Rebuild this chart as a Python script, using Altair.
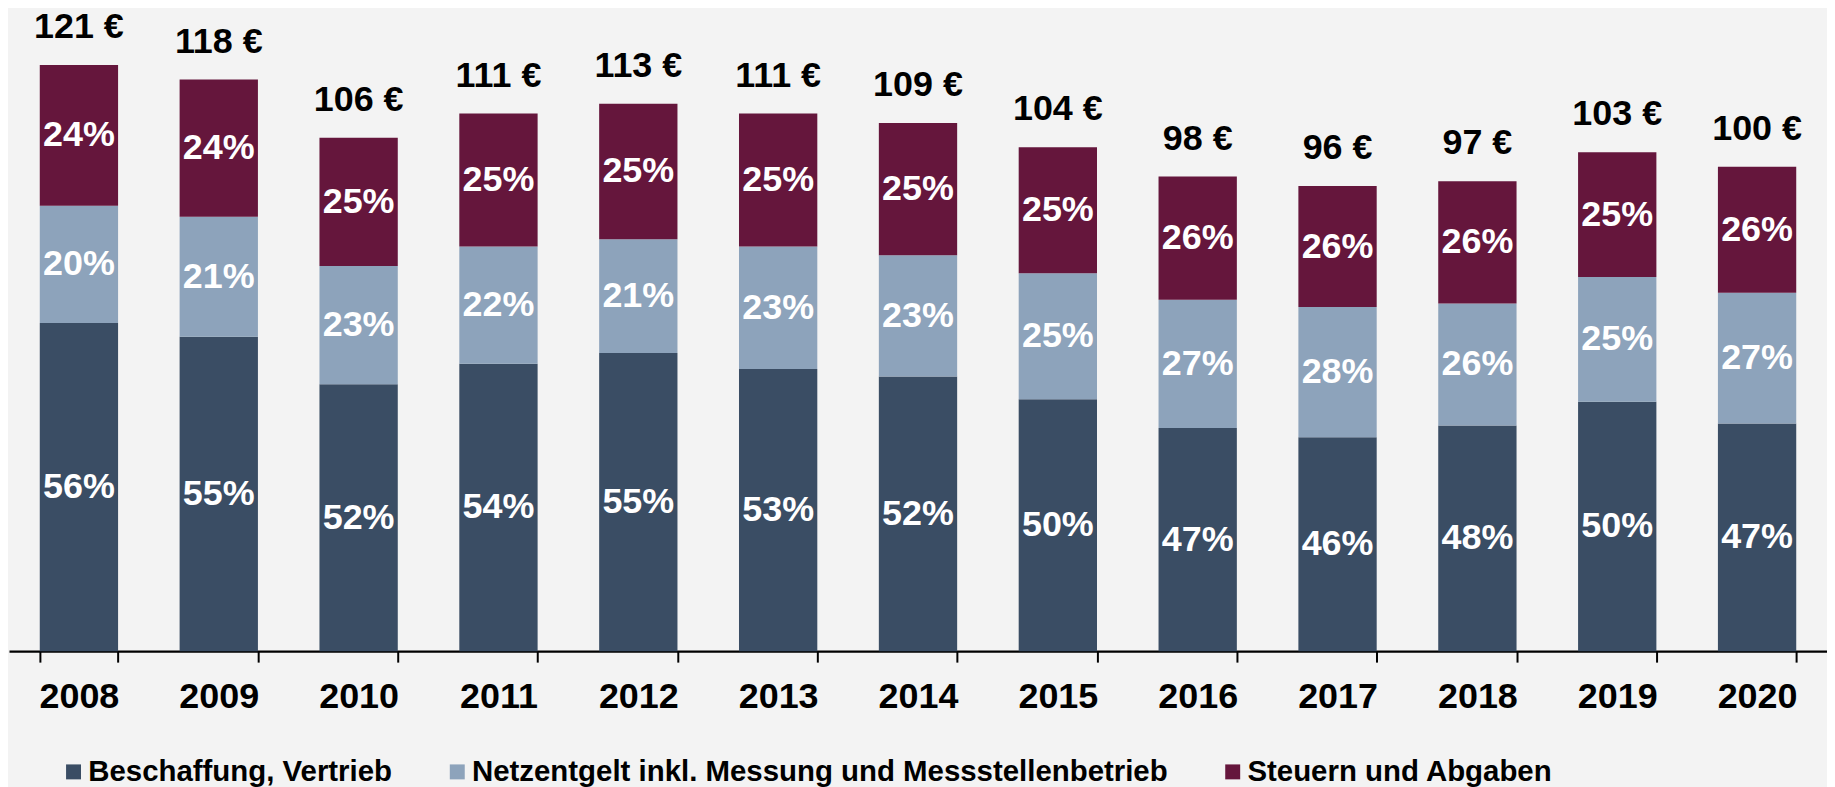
import altair as alt
import pandas as pd

years = [2008, 2009, 2010, 2011, 2012, 2013, 2014, 2015, 2016, 2017, 2018, 2019, 2020]
totals = [121, 118, 106, 111, 113, 111, 109, 104, 98, 96, 97, 103, 100]
series_names = [
    "Beschaffung, Vertrieb",
    "Netzentgelt inkl. Messung und Messstellenbetrieb",
    "Steuern und Abgaben",
]
beschaffung = [56, 55, 52, 54, 55, 53, 52, 50, 47, 46, 48, 50, 47]
netz = [20, 21, 23, 22, 21, 23, 23, 25, 27, 28, 26, 25, 27]
steuern = [24, 24, 25, 25, 25, 25, 25, 25, 26, 26, 26, 25, 26]
colors = ["#3a4d64", "#8da3bb", "#65163c"]

rows = []
for i, yr in enumerate(years):
    shares = [beschaffung[i], netz[i], steuern[i]]
    s = sum(shares)
    for j, name in enumerate(series_names):
        rows.append({
            "year": str(yr),
            "series": name,
            "o": j,
            "value": totals[i] * shares[j] / s,
            "label": f"{shares[j]}%",
        })
df = pd.DataFrame(rows)
tot = pd.DataFrame({
    "year": [str(y) for y in years],
    "total": totals,
    "label": [f"{t} €" for t in totals],
})

FONT = "Liberation Sans"

x = alt.X(
    "year:N",
    title=None,
    scale=alt.Scale(paddingInner=0.44, paddingOuter=0.22),
    axis=alt.Axis(
        labelAngle=0,
        labelFontSize=36,
        labelFont=FONT,
        labelFontWeight="bold",
        labelColor="black",
        labelPadding=18,
        domainColor="black",
        domainWidth=2.2,
        tickColor="black",
        tickWidth=2,
        tickSize=11,
        tickBand="extent",
        grid=False,
    ),
)
yscale = alt.Scale(domain=[0, 132.5], nice=False, zero=True)

bars = alt.Chart(df).mark_bar().encode(
    x=x,
    y=alt.Y("value:Q", stack="zero", scale=yscale, axis=None),
    color=alt.Color(
        "series:N",
        scale=alt.Scale(domain=series_names, range=colors),
        legend=alt.Legend(
            orient="none",
            legendX=50,
            legendY=750,
            direction="horizontal",
            title=None,
            symbolType="square",
            symbolSize=225,
            symbolStrokeWidth=0,
            symbolOpacity=1,
            labelFontSize=29.5,
            labelFont=FONT,
            labelFontWeight="bold",
            labelColor="black",
            labelLimit=0,
            columnPadding=50,
            labelOffset=0,
            padding=0,
        ),
    ),
    order=alt.Order("o:Q", sort="ascending"),
)

pct = (
    alt.Chart(df)
    .transform_window(cum="sum(value)", groupby=["year"], sort=[alt.SortField("o")], frame=[None, 0])
    .transform_calculate(mid="datum.cum - datum.value / 2")
    .mark_text(color="white", font=FONT, fontWeight="bold", fontSize=36, baseline="middle", align="center")
    .encode(x=x, y=alt.Y("mid:Q", scale=yscale, axis=None), text="label:N")
)

top = (
    alt.Chart(tot)
    .mark_text(color="black", font=FONT, fontWeight="bold", fontSize=36, baseline="alphabetic", align="center", dy=-27)
    .encode(x=x, y=alt.Y("total:Q", scale=yscale, axis=None), text="label:N")
)

chart = (
    alt.layer(bars, pct, top)
    .properties(
        width=1824,
        height=644,
        padding={"left": 1, "top": 0, "right": 0, "bottom": 135},
        autosize=alt.AutoSizeParams(type="none"),
    )
    .configure(background="#f3f3f3", font=FONT)
    .configure_view(stroke=None)
)

chart.save("out.html", embed_options={"renderer": "svg", "actions": False})
